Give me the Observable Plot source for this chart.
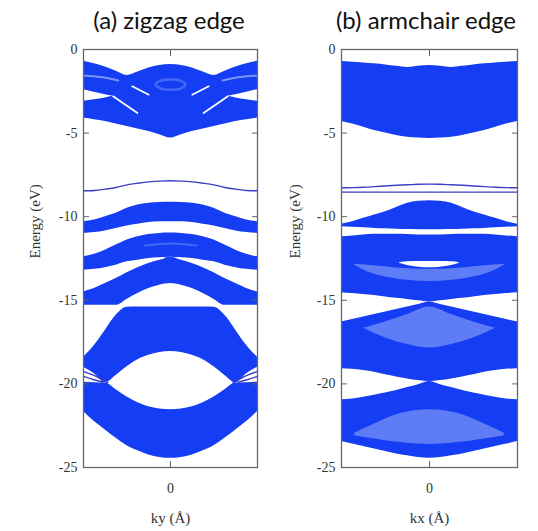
<!DOCTYPE html>
<html><head><meta charset="utf-8">
<script src="https://cdn.jsdelivr.net/npm/d3@7"></script>
<script src="https://cdn.jsdelivr.net/npm/@observablehq/plot@0.6"></script>
<style>
body{margin:0;background:#fff;}
#wrap{position:relative;width:538px;height:531px;overflow:hidden;background:#fff;}
.title{position:absolute;top:8px;font-family:Lato,"Open Sans",sans-serif;font-size:24px;line-height:24px;color:#111;transform:translateX(-50%);white-space:nowrap;}
.panel{position:absolute;top:0;}
svg text{font-family:"Liberation Serif","DejaVu Serif",serif !important;}
</style></head><body>
<div id="wrap">
  <div class="panel" id="pa" style="left:0px"></div>
  <div class="panel" id="pb" style="left:269px"></div>
  <div class="title" style="left:169px">(a) zigzag edge</div>
  <div class="title" style="left:426px">(b) armchair edge</div>
</div>
<script>
// ---------- shared ----------
const K = [-1,-0.875,-0.75,-0.625,-0.5,-0.375,-0.25,-0.125,0,0.125,0.25,0.375,0.5,0.625,0.75,0.875,1];
const yTicks = [0,-5,-10,-15,-20,-25];
const xTicks = [0];
const titleA = "(a) zigzag edge", titleB = "(b) armchair edge";
const yLabel = "Energy (eV)";
const xLabelA = "ky (Å)", xLabelB = "kx (Å)";

// ---------- (a) zigzag edge: band envelopes (eV) ----------
const zzBand1Hi = [-0.7,-0.85,-1.05,-1.3,-1.55,-1.35,-1.1,-0.95,-0.9,-0.95,-1.1,-1.35,-1.55,-1.3,-1.05,-0.85,-0.7];
const zzBand1Lo = [-4.1,-4.2,-4.3,-4.45,-4.6,-4.75,-4.9,-5.1,-5.3,-5.1,-4.9,-4.75,-4.6,-4.45,-4.3,-4.2,-4.1];
const zzBand2Hi = [-10.3,-10.2,-10.0,-9.8,-9.5,-9.3,-9.2,-9.15,-9.13,-9.15,-9.2,-9.3,-9.5,-9.8,-10.0,-10.2,-10.3];
const zzBand2Lo = [-11.0,-10.95,-10.85,-10.7,-10.55,-10.45,-10.35,-10.3,-10.3,-10.3,-10.35,-10.45,-10.55,-10.7,-10.85,-10.95,-11.0];
const zzBand3Hi = [-12.4,-12.25,-12.0,-11.7,-11.4,-11.2,-11.07,-11.0,-10.98,-11.0,-11.07,-11.2,-11.4,-11.7,-12.0,-12.25,-12.4];
const zzBand3Lo = [-13.2,-13.15,-13.05,-12.9,-12.7,-12.6,-12.5,-12.45,-12.42,-12.45,-12.5,-12.6,-12.7,-12.9,-13.05,-13.15,-13.2];
const zzBand4Hi = [-14.5,-14.3,-14.0,-13.7,-13.35,-13.05,-12.8,-12.6,-12.42,-12.6,-12.8,-13.05,-13.35,-13.7,-14.0,-14.3,-14.5];
const zzBand4Lo = [-15.3,-15.3,-15.3,-15.3,-14.95,-14.6,-14.3,-14.1,-14.0,-14.1,-14.3,-14.6,-14.95,-15.3,-15.3,-15.3,-15.3];
const zzBand5Hi = [-18.4,-17.7,-16.8,-15.9,-15.42,-15.4,-15.4,-15.4,-15.4,-15.4,-15.4,-15.4,-15.42,-15.9,-16.8,-17.7,-18.4];
const zzBand5Lo = [-19.0,-19.4,-19.95,-19.5,-18.98,-18.55,-18.29,-18.12,-18.06,-18.12,-18.29,-18.55,-18.98,-19.5,-19.95,-19.4,-19.0];
const zzBand6Hi = [-19.9,-19.93,-19.95,-20.35,-20.78,-21.12,-21.36,-21.5,-21.55,-21.5,-21.36,-21.12,-20.78,-20.35,-19.95,-19.93,-19.9];
const zzBand6Lo = [-21.65,-22.25,-22.75,-23.25,-23.7,-24.0,-24.25,-24.4,-24.45,-24.4,-24.25,-24.0,-23.7,-23.25,-22.75,-22.25,-21.65];
const zzEdge8 = [-8.45,-8.43,-8.35,-8.25,-8.1,-8.0,-7.92,-7.87,-7.85,-7.87,-7.92,-8.0,-8.1,-8.25,-8.35,-8.43,-8.45];
// white gaps inside the top group
const zzWedgeKL = [-1,-0.875,-0.75,-0.66], zzWedgeKR = [0.66,0.75,0.875,1];
const zzWedgeHiL = [-2.4,-2.55,-2.7,-2.8], zzWedgeLoL = [-3.1,-3.0,-2.9,-2.8];
const zzWedgeHiR = [-2.8,-2.7,-2.55,-2.4], zzWedgeLoR = [-2.8,-2.9,-3.0,-3.1];
const zzSlitTopL = [[-1,-1.55],[-0.8,-1.65],[-0.6,-1.85]];
const zzSlitTopR = [[0.6,-1.85],[0.8,-1.65],[1,-1.55]];
const zzSlitMidL = [[-0.44,-2.2],[-0.25,-2.7]];
const zzSlitMidR = [[0.25,-2.7],[0.44,-2.2]];
const zzSlitLowL = [[-0.66,-2.8],[-0.38,-3.8]];
const zzSlitLowR = [[0.38,-3.8],[0.66,-2.8]];
const zzSlit12L = [[-0.45,-12.72],[-0.25,-12.6],[-0.08,-12.47]];
const zzSlit12R = [[0.08,-12.47],[0.25,-12.6],[0.45,-12.72]];
const zzRing = [[-0.17,-2.1],[-0.12,-1.88],[0,-1.8],[0.12,-1.88],[0.17,-2.1],[0.12,-2.32],[0,-2.4],[-0.12,-2.32]];
const zzGlow11 = [[-0.3,-11.72],[0,-11.6],[0.3,-11.72]];
const zzEdge20L1 = [[-1,-19.25],[-0.9,-19.45],[-0.8,-19.7],[-0.72,-19.93]];
const zzEdge20L2 = [[-1,-19.55],[-0.88,-19.75],[-0.78,-19.9]];
const zzEdge20R1 = [[0.72,-19.93],[0.8,-19.7],[0.9,-19.45],[1,-19.25]];
const zzEdge20R2 = [[0.78,-19.9],[0.88,-19.75],[1,-19.55]];

// ---------- (b) armchair edge ----------
const acBand1Hi = [-0.72,-0.76,-0.8,-0.85,-0.92,-1.0,-1.07,-1.0,-0.95,-1.0,-1.07,-1.0,-0.92,-0.85,-0.8,-0.76,-0.72];
const acBand1Lo = [-4.3,-4.45,-4.65,-4.85,-5.0,-5.15,-5.25,-5.3,-5.32,-5.3,-5.25,-5.15,-5.0,-4.85,-4.65,-4.45,-4.3];
const acLine1 = [-8.27,-8.26,-8.24,-8.2,-8.16,-8.12,-8.09,-8.06,-8.05,-8.06,-8.09,-8.12,-8.16,-8.2,-8.24,-8.26,-8.27];
const acLine2 = [-8.53,-8.53,-8.53,-8.53,-8.53,-8.53,-8.53,-8.53,-8.53,-8.53,-8.53,-8.53,-8.53,-8.53,-8.53,-8.53,-8.53];
const acBand2Hi = [-10.45,-10.3,-10.1,-9.9,-9.7,-9.45,-9.2,-9.08,-9.05,-9.08,-9.2,-9.45,-9.7,-9.9,-10.1,-10.3,-10.45];
const acBand2Lo = [-10.6,-10.63,-10.66,-10.7,-10.72,-10.75,-10.77,-10.78,-10.78,-10.78,-10.77,-10.75,-10.72,-10.7,-10.66,-10.63,-10.6];
const acBand3Hi = [-11.2,-11.15,-11.1,-11.05,-11.05,-11.05,-11.07,-11.1,-11.1,-11.1,-11.07,-11.05,-11.05,-11.05,-11.1,-11.15,-11.2];
const acBand3Lo = [-14.55,-14.6,-14.65,-14.72,-14.8,-14.88,-14.95,-15.03,-15.1,-15.03,-14.95,-14.88,-14.8,-14.72,-14.65,-14.6,-14.55];
const acBand4Hi = [-16.3,-16.15,-16.0,-15.85,-15.7,-15.55,-15.4,-15.25,-15.1,-15.25,-15.4,-15.55,-15.7,-15.85,-16.0,-16.15,-16.3];
const acBand4Lo = [-19.1,-19.13,-19.2,-19.3,-19.45,-19.58,-19.7,-19.8,-19.86,-19.8,-19.7,-19.58,-19.45,-19.3,-19.2,-19.13,-19.1];
const acBand5Hi = [-20.95,-20.9,-20.8,-20.68,-20.55,-20.4,-20.22,-20.05,-19.86,-20.05,-20.22,-20.4,-20.55,-20.68,-20.8,-20.9,-20.95];
const acBand5Lo = [-23.45,-23.6,-23.75,-23.9,-24.05,-24.2,-24.3,-24.4,-24.45,-24.4,-24.3,-24.2,-24.05,-23.9,-23.75,-23.6,-23.45];
// white lens and lighter (striped) regions
const acLensK = [-0.34,-0.25,-0.125,0,0.125,0.25,0.34];
const acLensHi = [-12.75,-12.7,-12.68,-12.68,-12.68,-12.7,-12.75];
const acLensLo = [-12.78,-12.92,-13.02,-13.05,-13.02,-12.92,-12.78];
const acCresK = [-0.85,-0.7,-0.5,-0.25,0,0.25,0.5,0.7,0.85];
const acCresHi = [-12.85,-12.9,-13.0,-13.12,-13.15,-13.12,-13.0,-12.9,-12.85];
const acCresLo = [-12.9,-13.3,-13.6,-13.8,-13.88,-13.8,-13.6,-13.3,-12.9];
const acDiaK = [-0.75,-0.5,-0.25,0,0.25,0.5,0.75];
const acDiaHi = [-16.67,-16.3,-15.85,-15.4,-15.85,-16.3,-16.67];
const acDiaLo = [-16.67,-17.25,-17.65,-17.86,-17.65,-17.25,-16.67];
const acDomeK = [-0.85,-0.625,-0.5,-0.375,-0.25,-0.125,0,0.125,0.25,0.375,0.5,0.625,0.85];
const acDomeHi = [-22.95,-22.4,-22.1,-21.85,-21.68,-21.58,-21.55,-21.58,-21.68,-21.85,-22.1,-22.4,-22.95];
const acDomeLo = [-23.1,-23.3,-23.4,-23.48,-23.55,-23.6,-23.62,-23.6,-23.55,-23.48,-23.4,-23.3,-23.1];

// ---------- build tables ----------
const BLUE = "#153df3", LIGHT = "#6683f6", EDGE = "#3d3fc6";
const SERIF = "'Liberation Serif', 'DejaVu Serif', serif";
function bandRows(name, ks, lo, hi) { return ks.map((k, i) => ({band: name, k, lo: lo[i], hi: hi[i]})); }
function lineRows(name, pts) { return pts.map(([k, e]) => ({id: name, k, e})); }
function seriesRows(name, ks, es) { return ks.map((k, i) => ({id: name, k, e: es[i]})); }

const zzBands = [
  ...bandRows("b1", K, zzBand1Lo, zzBand1Hi), ...bandRows("b2", K, zzBand2Lo, zzBand2Hi),
  ...bandRows("b3", K, zzBand3Lo, zzBand3Hi), ...bandRows("b4", K, zzBand4Lo, zzBand4Hi),
  ...bandRows("b5", K, zzBand5Lo, zzBand5Hi), ...bandRows("b6", K, zzBand6Lo, zzBand6Hi)
];
const zzWhiteAreas = [...bandRows("wl", zzWedgeKL, zzWedgeLoL, zzWedgeHiL), ...bandRows("wr", zzWedgeKR, zzWedgeLoR, zzWedgeHiR)];
const zzWhiteLines = [
  ...lineRows("m1", zzSlitMidL), ...lineRows("m2", zzSlitMidR),
  ...lineRows("l1", zzSlitLowL), ...lineRows("l2", zzSlitLowR),
  ...lineRows("s1", zzSlit12L), ...lineRows("s2", zzSlit12R)
];
const zzSoftLines = [...lineRows("t1", zzSlitTopL), ...lineRows("t2", zzSlitTopR)];
const zzGlowLines = [...lineRows("g1", zzGlow11)];
const zzEdgeLines = [
  ...seriesRows("e8", K, zzEdge8),
  ...lineRows("e1", zzEdge20L1), ...lineRows("e2", zzEdge20L2),
  ...lineRows("e3", zzEdge20R1), ...lineRows("e4", zzEdge20R2)
];
const zzRingRows = lineRows("ring", zzRing);

const acBands = [
  ...bandRows("b1", K, acBand1Lo, acBand1Hi), ...bandRows("b2", K, acBand2Lo, acBand2Hi),
  ...bandRows("b3", K, acBand3Lo, acBand3Hi), ...bandRows("b4", K, acBand4Lo, acBand4Hi),
  ...bandRows("b5", K, acBand5Lo, acBand5Hi)
];
const acLightAreas = [
  ...bandRows("c", acCresK, acCresLo, acCresHi), ...bandRows("d", acDiaK, acDiaLo, acDiaHi),
  ...bandRows("m", acDomeK, acDomeLo, acDomeHi)
];
const acWhiteAreas = bandRows("lens", acLensK, acLensLo, acLensHi);
const acEdgeLines = [...seriesRows("l1", K, acLine1), ...seriesRows("l2", K, acLine2)];

// ---------- panel factory ----------
function panel({bands, whiteAreas = [], lightAreas = [], whiteLines = [], softLines = [], glowLines = [], ring = [], edgeLines = [], xLabel, mL, mR, labelDx}) {
  return Plot.plot({
    width: 269, height: 531,
    marginTop: 49, marginBottom: 64, marginLeft: mL, marginRight: mR,
    x: {domain: [-1, 1]},
    y: {domain: [-25, 0]},
    style: `font-family: ${SERIF}; font-size: 14px; color: #333; background: transparent; overflow: visible;`,
    marks: [
      Plot.areaY(bands, {x: "k", y1: "lo", y2: "hi", z: "band", fill: BLUE, curve: "monotone-x"}),
      Plot.areaY(lightAreas, {x: "k", y1: "lo", y2: "hi", z: "band", fill: LIGHT, fillOpacity: 0.9, curve: "monotone-x"}),
      Plot.areaY(whiteAreas, {x: "k", y1: "lo", y2: "hi", z: "band", fill: "white", curve: "monotone-x"}),
      Plot.line(whiteLines, {x: "k", y: "e", z: "id", stroke: "white", strokeWidth: 1.7, curve: "catmull-rom"}),
      Plot.line(softLines, {x: "k", y: "e", z: "id", stroke: "white", strokeOpacity: 0.45, strokeWidth: 2, curve: "catmull-rom"}),
      Plot.line(glowLines, {x: "k", y: "e", z: "id", stroke: LIGHT, strokeOpacity: 0.6, strokeWidth: 2, curve: "catmull-rom"}),
      Plot.line(ring, {x: "k", y: "e", z: "id", stroke: LIGHT, strokeOpacity: 0.6, strokeWidth: 2.5, curve: "catmull-rom-closed"}),
      Plot.line(edgeLines, {x: "k", y: "e", z: "id", stroke: EDGE, strokeWidth: 1.4, curve: "catmull-rom"}),
      Plot.frame({stroke: "#666", strokeWidth: 1.3}),
      Plot.axisY({ticks: yTicks, anchor: "left", tickSize: -6, tickPadding: 12, tickFormat: (d) => String(d), label: null, stroke: "#666", fontFamily: SERIF, fontSize: 14}),
      Plot.axisY({ticks: yTicks, anchor: "right", tickSize: -6, fill: "none", label: null, stroke: "#666"}),
      Plot.axisX({ticks: xTicks, anchor: "bottom", tickSize: -6, tickPadding: 22, tickFormat: (d) => String(d), label: null, stroke: "#666", fontFamily: SERIF, fontSize: 14}),
      Plot.axisX({ticks: xTicks, anchor: "top", tickSize: -6, fill: "none", label: null, stroke: "#666"}),
      Plot.text([yLabel], {text: (d) => d, frameAnchor: "left", dx: labelDx, rotate: -90, fontSize: 15, fontFamily: SERIF}),
      Plot.text([xLabel], {text: (d) => d, frameAnchor: "bottom", dy: 55, fontSize: 15, fontFamily: SERIF})
    ]
  });
}

document.getElementById("pa").append(panel({
  bands: zzBands, whiteAreas: zzWhiteAreas, whiteLines: zzWhiteLines, softLines: zzSoftLines,
  glowLines: zzGlowLines, ring: zzRingRows, edgeLines: zzEdgeLines,
  xLabel: xLabelA, mL: 83, mR: 12, labelDx: -48
}));
document.getElementById("pb").append(panel({
  bands: acBands, lightAreas: acLightAreas, whiteAreas: acWhiteAreas, edgeLines: acEdgeLines,
  xLabel: xLabelB, mL: 72, mR: 21, labelDx: -46
}));
</script>
</body></html>
